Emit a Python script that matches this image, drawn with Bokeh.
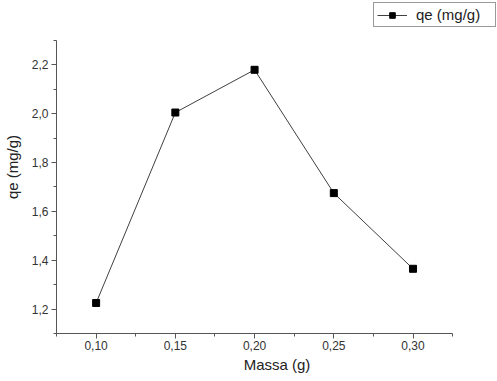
from bokeh.plotting import figure
from bokeh.models import (FixedTicker, CustomJSTickFormatter, Legend, LegendItem,
                          Range1d, ColumnDataSource)
from bokeh.embed import file_html
from bokeh.resources import INLINE

massa = [0.10, 0.15, 0.20, 0.25, 0.30]
qe = [1.225, 2.005, 2.18, 1.675, 1.365]

x_major = [0.10, 0.15, 0.20, 0.25, 0.30]
x_minor = [0.075, 0.125, 0.175, 0.225, 0.275, 0.325]
y_major = [1.2, 1.4, 1.6, 1.8, 2.0, 2.2]
y_minor = [1.1, 1.3, 1.5, 1.7, 1.9, 2.1, 2.3]
x_axis_span = (0.075, 0.325)
y_axis_span = (1.1, 2.3)

FONT = "Liberation Sans"

# frame is extended to the top/right page edges so the legend box (which sits
# above the axes, as in the reference) is not clipped; the axes are bounded.
p = figure(width=497, height=381, output_backend="svg", toolbar_location=None,
           x_range=Range1d(0.075, 0.3533), y_range=Range1d(1.1, 2.4638),
           min_border_left=55, min_border_right=0, min_border_top=0,
           min_border_bottom=48)
p.outline_line_color = None
p.grid.visible = False
p.background_fill_color = "white"
p.border_fill_color = "white"

src = ColumnDataSource(dict(x=massa, y=qe))
r1 = p.line("x", "y", source=src, line_color="#404040", line_width=1)
r2 = p.scatter("x", "y", source=src, marker="square", size=7,
               fill_color="black", line_color="black")

p.xaxis.bounds = x_axis_span
p.yaxis.bounds = y_axis_span
p.xaxis.ticker = FixedTicker(ticks=x_major, minor_ticks=x_minor)
p.yaxis.ticker = FixedTicker(ticks=y_major, minor_ticks=y_minor)
p.xaxis.formatter = CustomJSTickFormatter(code="return tick.toFixed(2).replace('.', ',');")
p.yaxis.formatter = CustomJSTickFormatter(code="return tick.toFixed(1).replace('.', ',');")

for ax in (p.xaxis[0], p.yaxis[0]):
    ax.axis_line_color = "#555555"
    ax.major_tick_line_color = "#555555"
    ax.minor_tick_line_color = "#555555"
    ax.major_tick_out = 5
    ax.major_tick_in = 0
    ax.minor_tick_out = 3
    ax.minor_tick_in = 0
    ax.major_label_text_font = FONT
    ax.major_label_text_font_size = "12px"
    ax.major_label_text_color = "#333333"
    ax.axis_label_text_font = FONT
    ax.axis_label_text_font_size = "15px"
    ax.axis_label_text_font_style = "normal"
    ax.axis_label_text_color = "#222222"

p.xaxis.axis_label = "Massa (g)"
p.yaxis.axis_label = "qe (mg/g)"
p.xaxis.major_label_standoff = 2
p.yaxis.major_label_standoff = 3
p.xaxis.axis_label_standoff = 3
p.yaxis.axis_label_standoff = 8

legend = Legend(items=[LegendItem(label="qe (mg/g)", renderers=[r1, r2])],
                location=(317, 306), orientation="horizontal",
                border_line_color="#333333", border_line_width=1,
                background_fill_color="white", background_fill_alpha=1,
                label_text_font=FONT, label_text_font_size="15px",
                label_text_color="#222222", label_width=76,
                padding=3, margin=0, glyph_width=30, glyph_height=14,
                label_standoff=9, spacing=0)
p.add_layout(legend, "center")

open("out.html", "w").write(file_html(p, INLINE))
